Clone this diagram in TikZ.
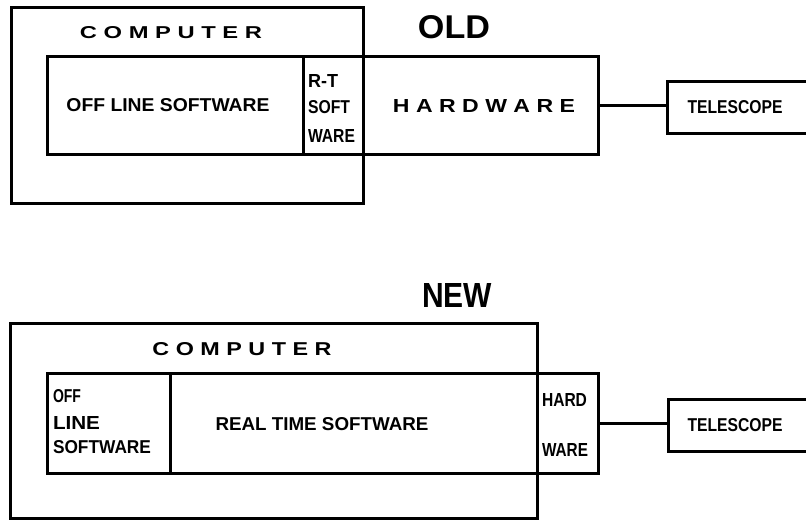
\documentclass[tikz,border=0pt]{standalone}
\usepackage{fontspec}
\setmainfont{Liberation Sans}
\usepackage{graphicx}
\newcommand\plt[3]{\resizebox{#1pt}{#2pt}{\bfseries #3}}
\begin{document}
\begin{tikzpicture}[x=1pt,y=-1pt,
  box/.style={draw, line width=3pt, inner sep=0pt, outer sep=0pt, anchor=north west},
  wire/.style={line width=3pt},
  lbl/.style={inner sep=0pt, outer sep=0pt}]
\useasboundingbox (0,0) rectangle (806,524);
\clip (0,0) rectangle (806,524);
\fill[white] (0,0) rectangle (806,524);
% ---------- OLD ----------
\node[box, minimum width=352pt, minimum height=195pt] (oc) at (11,8) {};
\node[box, minimum width=256pt, minimum height=98pt] (ooff) at (47,57) {};
\node[box, minimum width=60pt, minimum height=98pt] (ort) at (303,57) {};
\node[box, minimum width=235pt, minimum height=98pt] (ohw) at (363,57) {};
\node[box, minimum width=150pt, minimum height=52pt] (otel) at (667,82) {};
\draw[wire] (ohw.east) -- (ohw.east -| otel.west);
\node[lbl] (oldt) at (454,27) {\plt{72}{23}{OLD}};
\node[lbl] (ocomp) at (171,33) {\plt{182}{12}{C O M P U T E R}};
\node[lbl] (oofft) at (168,105) {\plt{203}{13}{OFF LINE SOFTWARE}};
\node[lbl, anchor=west] (ort1) at (308,81) {\plt{30}{13}{R-T}};
\node[lbl, anchor=west] (ort2) at (308,107) {\plt{42}{13}{SOFT}};
\node[lbl, anchor=west] (ort3) at (308,136) {\plt{47}{13}{WARE}};
\node[lbl] (ohwt) at (484,106) {\plt{182}{13}{H A R D W A R E}};
\node[lbl] (otelt) at (735,107) {\plt{95}{13}{TELESCOPE}};
% ---------- NEW ----------
\node[box, minimum width=527pt, minimum height=195pt] (nc) at (10,323) {};
\node[box, minimum width=123pt, minimum height=100pt] (noff) at (47,373) {};
\node[box, minimum width=367pt, minimum height=100pt] (nrt) at (170,373) {};
\node[box, minimum width=61pt, minimum height=100pt] (nhw) at (537,373) {};
\node[box, minimum width=150pt, minimum height=52pt] (ntel) at (668,399) {};
\draw[wire] (nhw.east) -- (nhw.east -| ntel.west);
\node[lbl] (newt) at (457,295) {\plt{70}{24}{NEW}};
\node[lbl] (ncomp) at (242,349) {\plt{179}{13}{C O M P U T E R}};
\node[lbl, anchor=west] (noff1) at (53,396) {\plt{28}{13}{OFF}};
\node[lbl, anchor=west] (noff2) at (53,423) {\plt{47}{13}{LINE}};
\node[lbl, anchor=west] (noff3) at (53,447) {\plt{98}{13}{SOFTWARE}};
\node[lbl] (nrtt) at (322,424) {\plt{213}{13}{REAL TIME SOFTWARE}};
\node[lbl, anchor=west] (nhw1) at (542,400) {\plt{45}{13}{HARD}};
\node[lbl, anchor=west] (nhw2) at (542,450) {\plt{46}{13}{WARE}};
\node[lbl] (ntelt) at (735,425) {\plt{95}{13}{TELESCOPE}};
\end{tikzpicture}
\end{document}
